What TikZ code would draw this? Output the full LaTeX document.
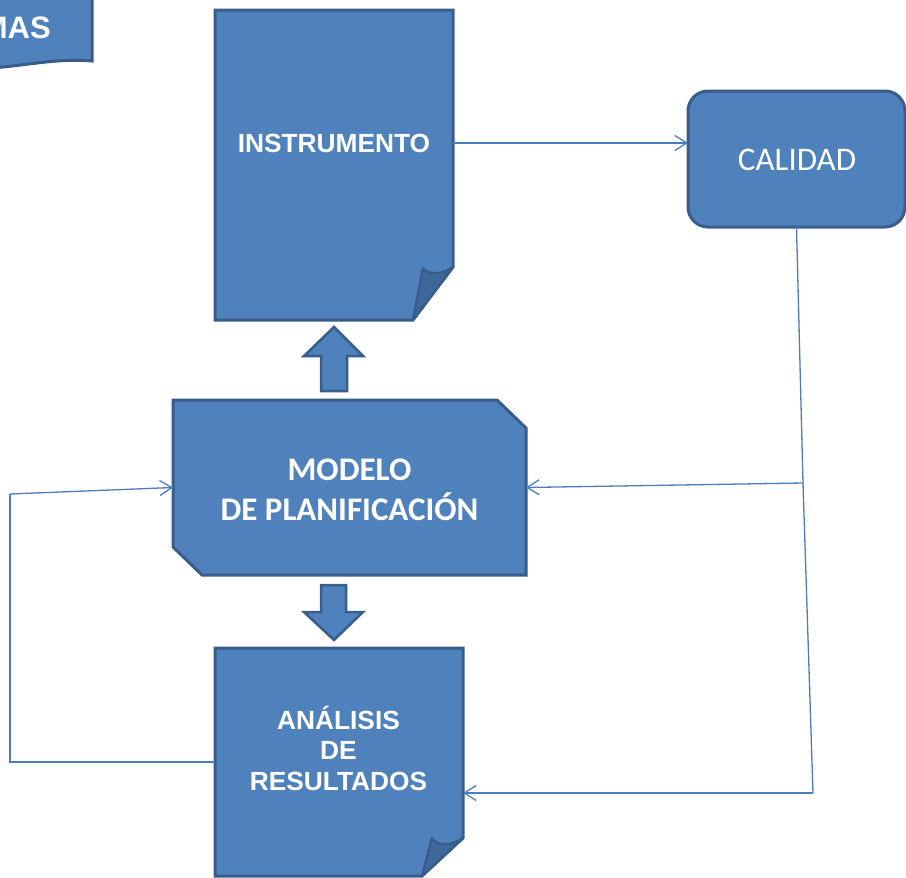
\documentclass[tikz,border=0pt]{standalone}
\usepackage{fontspec}
\setmainfont{Liberation Sans}
\newfontfamily\carlito{Carlito}
\usetikzlibrary{arrows.meta}
\definecolor{boxfill}{RGB}{79,129,189}
\definecolor{boxline}{RGB}{56,93,138}
\definecolor{foldfill}{RGB}{63,104,154}
\definecolor{lineblue}{RGB}{74,126,187}
\tikzset{
  shapebox/.style={fill=boxfill, draw=boxline, line width=3pt, line join=miter},
  foldbox/.style={fill=foldfill, draw=boxline, line width=2.5pt, line join=round},
  area/.style={inner sep=0pt, outer sep=0pt},
  txtb/.style={text=white, font=\bfseries\fontsize{26.3}{30.5}\selectfont, align=center, inner sep=0pt},
  conn/.style={draw=lineblue, line width=1.3pt},
  arr/.style={conn, -{Straight Barb[length=12pt,width=15pt]}}
}
\begin{document}
\begin{tikzpicture}[x=1pt,y=-1pt]
\useasboundingbox (0,0) rectangle (906,878);
% MAS box (partly outside)
\path[shapebox] (-10,-10) -- (92,-10) -- (92,61) .. controls (55,58) and (25,66) .. (-10,68) -- cycle;
\node[txtb, font=\bfseries\fontsize{31}{36}\selectfont, anchor=east] (mas) at (51,28) {MAS};
% INSTRUMENTO document
\node[area, minimum width=238pt, minimum height=310pt] (instr) at (334,165) {};
\path[shapebox] (215,10) -- (453,10) -- (453,267) -- (413,320) -- (215,320) -- cycle;
\path[foldbox] (423,268) .. controls (428,276) and (445,274) .. (453,267) -- (413,320) -- cycle;
\node[txtb] (instrtxt) at (334,143) {INSTRUMENTO};
% CALIDAD
\node[area, minimum width=217pt, minimum height=136pt, rounded corners=20pt, shapebox] (cal) at (796.5,159) {};
\node[text=white, font=\carlito\fontsize{33}{38}\selectfont, inner sep=0pt] (caltxt) at (797,160) {CALIDAD};
% Up block arrow
\path[shapebox, line width=2.5pt] (334,327) -- (363,356) -- (347,356) -- (347,391) -- (321,391) -- (321,356) -- (304,356) -- cycle;
% MODELO
\node[area, minimum width=353pt, minimum height=175pt] (mod) at (349.5,487.5) {};
\path[shapebox] (173,400) -- (497,400) -- (526,428) -- (526,575) -- (202,575) -- (173,547) -- cycle;
\node[txtb, font=\carlito\bfseries\fontsize{33}{40}\selectfont] (modtxt) at (349.5,490) {MODELO\\DE PLANIFICACIÓN};
% Down block arrow
\path[shapebox, line width=2.5pt] (321,585) -- (346,585) -- (346,612) -- (363,612) -- (334,640) -- (304,612) -- (321,612) -- cycle;
% ANALISIS document
\node[area, minimum width=248pt, minimum height=228pt] (ana) at (339,762) {};
\path[shapebox] (215,648) -- (463,648) -- (463,838) -- (422,876) -- (215,876) -- cycle;
\path[foldbox] (432,838) .. controls (436,847) and (452,846) .. (463,838) -- (422,876) -- cycle;
\node[txtb] (anatxt) at (338.5,748) {ANÁLISIS\\DE\\RESULTADOS};
% connectors
\coordinate (c2) at (803,483);
\coordinate (c1) at (813,793);
\coordinate (l1) at (10,762);
\coordinate (l2) at (10,494);
\draw[arr] ([yshift=22pt]instr.east) -- ([yshift=16pt]cal.west);
\draw[conn] (cal.south) -- (c2) -- (c1);
\draw[arr] (c1) -- ([yshift=-31pt]ana.east);
\draw[arr] (c2) -- (mod.east);
\draw[conn] (ana.west) -- (l1) -- (l2);
\draw[arr] (l2) -- (mod.west);
\end{tikzpicture}
\end{document}
